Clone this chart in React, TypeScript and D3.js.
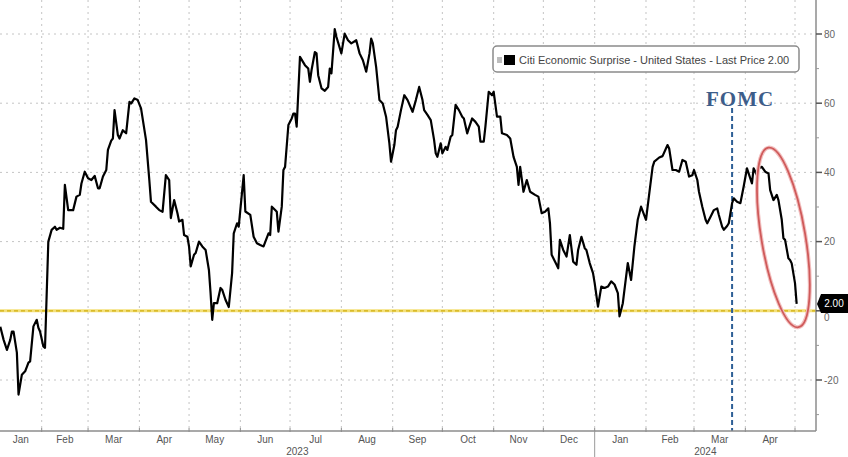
import React from 'react';
import * as d3 from 'd3';

const dates = [
  '2023-01-07','2023-01-09','2023-01-11','2023-01-13','2023-01-14','2023-01-15','2023-01-17','2023-01-18','2023-01-20','2023-01-22',
  '2023-01-24','2023-01-25','2023-01-27','2023-01-29','2023-01-30','2023-01-31','2023-02-02','2023-02-03','2023-02-05','2023-02-07',
  '2023-02-09','2023-02-10','2023-02-12','2023-02-14','2023-02-15','2023-02-17','2023-02-20','2023-02-22','2023-02-24','2023-02-25',
  '2023-02-27','2023-03-01','2023-03-03','2023-03-05','2023-03-07','2023-03-08','2023-03-10','2023-03-12','2023-03-13','2023-03-15',
  '2023-03-16','2023-03-17','2023-03-19','2023-03-20','2023-03-22','2023-03-24','2023-03-26','2023-03-27','2023-03-29','2023-03-31',
  '2023-04-02','2023-04-05','2023-04-07','2023-04-08','2023-04-11','2023-04-13','2023-04-15','2023-04-17','2023-04-19','2023-04-20',
  '2023-04-22','2023-04-24','2023-04-25','2023-04-27','2023-04-28','2023-04-30','2023-05-01','2023-05-02','2023-05-04','2023-05-05',
  '2023-05-07','2023-05-09','2023-05-11','2023-05-13','2023-05-14','2023-05-15','2023-05-16','2023-05-18','2023-05-20','2023-05-21',
  '2023-05-23','2023-05-25','2023-05-27','2023-05-28','2023-05-30','2023-05-31','2023-06-03','2023-06-04','2023-06-07','2023-06-09',
  '2023-06-11','2023-06-13','2023-06-15','2023-06-18','2023-06-19','2023-06-20','2023-06-22','2023-06-23','2023-06-24','2023-06-26',
  '2023-06-27','2023-06-28','2023-06-30','2023-07-02','2023-07-03','2023-07-04','2023-07-05','2023-07-07','2023-07-10','2023-07-12',
  '2023-07-13','2023-07-14','2023-07-16','2023-07-17','2023-07-18','2023-07-20','2023-07-22','2023-07-24','2023-07-25','2023-07-26',
  '2023-07-28','2023-07-29','2023-08-01','2023-08-03','2023-08-05','2023-08-07','2023-08-10','2023-08-12','2023-08-14','2023-08-16',
  '2023-08-18','2023-08-19','2023-08-20','2023-08-22','2023-08-24','2023-08-26','2023-08-28','2023-08-30','2023-08-31','2023-09-02',
  '2023-09-03','2023-09-04','2023-09-06','2023-09-08','2023-09-10','2023-09-13','2023-09-15','2023-09-17','2023-09-19','2023-09-20',
  '2023-09-22','2023-09-24','2023-09-26','2023-09-27','2023-09-28','2023-09-30','2023-10-01','2023-10-03','2023-10-04','2023-10-06',
  '2023-10-07','2023-10-09','2023-10-11','2023-10-13','2023-10-14','2023-10-16','2023-10-17','2023-10-19','2023-10-21','2023-10-23',
  '2023-10-24','2023-10-26','2023-10-27','2023-10-29','2023-10-31','2023-11-01','2023-11-03','2023-11-05','2023-11-06','2023-11-09',
  '2023-11-11','2023-11-13','2023-11-15','2023-11-16','2023-11-17','2023-11-19','2023-11-21','2023-11-23','2023-11-26','2023-11-28',
  '2023-11-30','2023-12-02','2023-12-04','2023-12-05','2023-12-06','2023-12-09','2023-12-10','2023-12-11','2023-12-13','2023-12-15',
  '2023-12-17','2023-12-19','2023-12-21','2023-12-22','2023-12-24','2023-12-26','2023-12-27','2023-12-29','2023-12-31','2024-01-01',
  '2024-01-03','2024-01-04','2024-01-05','2024-01-07','2024-01-09','2024-01-11','2024-01-13','2024-01-15','2024-01-16','2024-01-18',
  '2024-01-19','2024-01-21','2024-01-23','2024-01-25','2024-01-27','2024-01-29','2024-02-01','2024-02-03','2024-02-05','2024-02-06',
  '2024-02-09','2024-02-11','2024-02-14','2024-02-15','2024-02-17','2024-02-19','2024-02-21','2024-02-23','2024-02-25','2024-02-27',
  '2024-02-29','2024-03-01','2024-03-03','2024-03-04','2024-03-06','2024-03-08','2024-03-09','2024-03-11','2024-03-13','2024-03-15',
  '2024-03-16','2024-03-18','2024-03-19','2024-03-21','2024-03-22','2024-03-24','2024-03-25','2024-03-27','2024-03-29','2024-03-31',
  '2024-04-02','2024-04-03','2024-04-05','2024-04-06','2024-04-08','2024-04-09','2024-04-11','2024-04-13','2024-04-15','2024-04-16',
  '2024-04-18','2024-04-20','2024-04-21','2024-04-23','2024-04-24','2024-04-25','2024-04-27','2024-04-28','2024-04-29','2024-05-01',
  '2024-05-02'
];

const values = [
  -4.6, -8.4, -11.3, -8.4, -6.0, -6.0, -12.1, -24.2, -18.5, -17.5,
  -15.0, -14.6, -4.5, -2.6, -4.9, -6.0, -10.3, -10.7, 20.0, 23.4,
  24.3, 23.4, 24.0, 23.7, 36.4, 29.1, 29.1, 33.0, 33.5, 36.8,
  40.2, 38.3, 37.8, 39.0, 35.4, 35.4, 38.8, 40.7, 46.5, 49.2,
  49.8, 58.0, 50.8, 49.8, 52.2, 51.3, 60.4, 59.9, 61.4, 60.9,
  58.5, 49.4, 37.8, 31.5, 30.1, 29.1, 28.6, 39.2, 37.8, 26.8,
  32.0, 28.2, 25.8, 26.3, 21.9, 21.4, 18.6, 12.8, 16.2, 16.7,
  20.0, 18.6, 17.6, 11.8, 5.1, -2.6, 2.2, 2.2, 6.6, 6.1,
  3.2, 1.1, 10.9, 22.4, 25.3, 24.3, 39.2, 28.7, 27.7, 21.4,
  19.5, 19.0, 18.6, 22.4, 21.9, 30.1, 29.1, 28.6, 22.9, 30.1,
  40.7, 41.6, 53.7, 55.6, 57.0, 57.0, 53.2, 73.4, 71.0, 70.0,
  66.2, 69.6, 74.8, 74.4, 68.1, 64.3, 63.6, 64.7, 70.0, 68.6,
  81.4, 79.2, 74.4, 80.1, 78.2, 77.3, 78.2, 74.4, 72.4, 69.1,
  74.4, 78.7, 77.3, 70.5, 60.9, 59.9, 56.1, 48.4, 43.1, 47.9,
  52.2, 53.2, 58.0, 62.3, 60.9, 57.5, 60.9, 64.7, 60.9, 58.0,
  56.6, 55.1, 49.4, 45.5, 44.5, 48.4, 45.5, 47.4, 46.5, 50.3,
  50.8, 59.5, 58.0, 56.1, 55.6, 51.3, 52.8, 55.6, 54.6, 53.2,
  48.9, 48.9, 53.2, 63.3, 62.3, 63.3, 56.1, 56.1, 51.3, 50.8,
  49.8, 44.5, 41.6, 36.4, 41.6, 34.4, 37.8, 34.4, 33.5, 33.0,
  28.2, 28.6, 29.6, 25.3, 16.2, 13.3, 12.3, 20.5, 17.6, 15.7,
  21.9, 14.2, 13.3, 17.6, 21.4, 18.1, 17.6, 13.8, 10.9, 8.0,
  1.2, 4.1, 7.0, 6.6, 7.0, 8.5, 7.6, 5.1, -1.6, 2.2,
  6.1, 13.8, 8.9, 18.6, 26.3, 30.1, 26.3, 34.0, 41.6, 43.1,
  44.3, 44.7, 47.9, 46.9, 40.7, 40.7, 40.2, 43.6, 43.1, 38.8,
  39.2, 40.7, 37.8, 34.4, 30.1, 26.3, 25.3, 27.2, 29.1, 29.6,
  27.7, 24.3, 23.4, 24.5, 25.3, 31.1, 32.5, 31.5, 31.1, 35.9,
  41.2, 39.7, 36.8, 41.2, 39.2, 41.2, 41.6, 40.2, 39.7, 34.9,
  32.0, 33.5, 32.0, 26.3, 21.0, 20.5, 15.2, 14.7, 13.7, 8.0,
  2.0
];

const yTickValues = [80, 60, 40, 20, 0, -20];
const monthLabels = ['Jan', 'Feb', 'Mar', 'Apr', 'May', 'Jun', 'Jul', 'Aug', 'Sep', 'Oct', 'Nov', 'Dec'];
const yearLabels = ['2023', '2024'];
const legendLabel = 'Citi Economic Surprise - United States - Last Price 2.00';
const lastPrice = 2.0;
const fomcLabel = 'FOMC';
const fomcDate = '2024-03-24';
const circleCenter = { date: '2024-04-24', value: 21.2 };

const FONT = '"Liberation Sans", Arial, sans-serif';

export default function App() {
  const W = 848;
  const H = 457;
  const plotL = 0;
  const plotR = 816;
  const plotT = 0;
  const plotB = 431;

  const parse = d3.utcParse('%Y-%m-%d');
  const x = d3
    .scaleUtc()
    .domain([new Date(Date.UTC(2023, 1, 1)), new Date(Date.UTC(2024, 4, 1))])
    .range([41.7, 795]);
  const y = d3.scaleLinear().domain([-20, 80]).range([380, 34]);

  const data = dates.map((d, i) => ({ date: parse(d) as Date, value: values[i] }));
  const line = d3
    .line<{ date: Date; value: number }>()
    .x((d) => x(d.date))
    .y((d) => y(d.value));

  const monthStarts = d3.utcMonth.range(new Date(Date.UTC(2023, 0, 1)), new Date(Date.UTC(2024, 5, 1)));
  const gridMonths = monthStarts.filter((m) => x(m) > plotL + 2 && x(m) < plotR - 2);
  const labelMonths = d3.utcMonth.range(new Date(Date.UTC(2023, 0, 1)), new Date(Date.UTC(2024, 4, 1)));

  const minorTicks = d3.range(-30, 91, 10);
  const yearStarts = [new Date(Date.UTC(2023, 0, 1)), new Date(Date.UTC(2024, 0, 1)), new Date(Date.UTC(2024, 4, 14))];

  const fomcX = x(parse(fomcDate) as Date);
  const cx = x(parse(circleCenter.date) as Date);
  const cy = y(circleCenter.value);
  const tagY = y(lastPrice);

  return (
    <svg
      width={W}
      height={H}
      viewBox={`0 0 ${W} ${H}`}
      style={{ position: 'absolute', left: 0, top: 0, background: '#fff' }}
    >
      <defs>
        <clipPath id="plotClip">
          <rect x={plotL} y={plotT} width={plotR - plotL} height={plotB - plotT} />
        </clipPath>
      </defs>
      <rect x={0} y={0} width={W} height={H} fill="#fff" />

      {/* horizontal grid */}
      {yTickValues.map((v) => (
        <line
          key={'hg' + v}
          x1={plotL}
          x2={plotR}
          y1={y(v)}
          y2={y(v)}
          stroke="#c4c4c4"
          strokeWidth={1}
          strokeDasharray="2,4"
        />
      ))}
      {/* vertical grid */}
      {gridMonths.map((m) => (
        <line
          key={'vg' + m.toISOString()}
          x1={x(m)}
          x2={x(m)}
          y1={plotT}
          y2={plotB}
          stroke="#c4c4c4"
          strokeWidth={1}
          strokeDasharray="2,4"
        />
      ))}

      {/* zero line (yellow) */}
      <line x1={plotL} x2={plotR} y1={y(0)} y2={y(0)} stroke="#f4e07a" strokeWidth={3} />
      <line x1={plotL} x2={plotR} y1={y(0)} y2={y(0)} stroke="#cfae10" strokeWidth={1.2} strokeDasharray="4,3" />

      {/* FOMC */}
      <line
        x1={fomcX}
        x2={fomcX}
        y1={108}
        y2={plotB}
        stroke="#2d5f96"
        strokeWidth={2}
        strokeDasharray="5,3"
      />
      <text
        x={fomcX + 8}
        y={106}
        textAnchor="middle"
        fontFamily='"Liberation Serif", "Times New Roman", serif'
        fontWeight="bold"
        fontSize={21}
        letterSpacing={1}
        fill="#3d5d8a"
      >
        {fomcLabel}
      </text>

      {/* data line */}
      <g clipPath="url(#plotClip)">
        <path d={line(data) || ''} fill="none" stroke="#000" strokeWidth={2.2} strokeLinejoin="round" />
      </g>

      {/* red ellipse */}
      <g transform={`translate(${cx},${cy}) rotate(-9.5)`}>
        <ellipse cx={0} cy={0} rx={22} ry={91} fill="none" stroke="#f2c0c0" strokeWidth={4} />
        <ellipse cx={0} cy={0} rx={22} ry={91} fill="none" stroke="#cf5a5a" strokeWidth={1.8} />
      </g>

      {/* legend */}
      <rect x={493} y={46} width={306} height={26} rx={4} fill="#fff" stroke="#8a8a8a" strokeWidth={1.5} />
      <rect x={497} y={57} width={5} height={6} fill="#bdbdbd" />
      <rect x={504} y={55} width={11} height={10} fill="#000" />
      <text x={519} y={64} fontFamily={FONT} fontSize={11} fill="#444">
        {legendLabel}
      </text>

      {/* bottom axis */}
      <line x1={plotL} x2={plotR} y1={plotB} y2={plotB} stroke="#8c8c8c" strokeWidth={1.5} />
      {gridMonths.map((m) => (
        <line key={'bt' + m.toISOString()} x1={x(m)} x2={x(m)} y1={plotB - 3} y2={plotB + 1} stroke="#8c8c8c" strokeWidth={1} />
      ))}
      {labelMonths.map((m) => {
        const next = d3.utcMonth.offset(m, 1);
        const cxm = (Math.max(plotL, x(m)) + x(next)) / 2;
        return (
          <text key={'ml' + m.toISOString()} x={cxm} y={443} textAnchor="middle" fontFamily={FONT} fontSize={10} fill="#555">
            {monthLabels[m.getUTCMonth()]}
          </text>
        );
      })}
      {yearLabels.map((lab, i) => {
        const a = Math.max(plotL, x(yearStarts[i]));
        const b = Math.min(plotR, x(yearStarts[i + 1]));
        return (
          <text key={'yl' + lab} x={(a + b) / 2} y={455} textAnchor="middle" fontFamily={FONT} fontSize={10} fill="#555">
            {lab}
          </text>
        );
      })}
      <line
        x1={x(yearStarts[1])}
        x2={x(yearStarts[1])}
        y1={plotB}
        y2={H}
        stroke="#9a9a9a"
        strokeWidth={1}
      />

      {/* right axis */}
      <line x1={plotR} x2={plotR} y1={plotT} y2={plotB} stroke="#8c8c8c" strokeWidth={1.5} />
      {minorTicks.map((v) => (
        <line
          key={'rt' + v}
          x1={plotR}
          x2={plotR + (v % 20 === 0 ? 6 : 3)}
          y1={y(v)}
          y2={y(v)}
          stroke={v % 20 === 0 ? '#555' : '#999'}
          strokeWidth={v % 20 === 0 ? 1.5 : 1}
        />
      ))}
      {yTickValues.map((v) => (
        <text key={'rl' + v} x={824} y={y(v) + (v === 0 ? 7 : 0)} dy="0.35em" fontFamily={FONT} fontSize={10} fill="#666">
          {v}
        </text>
      ))}

      {/* last price tag */}
      <polygon
        points={`${plotR + 1},${tagY} ${plotR + 5},${tagY - 10} ${W},${tagY - 10} ${W},${tagY + 9} ${plotR + 5},${tagY + 9}`}
        fill="#000"
      />
      <text x={834} y={tagY} dy="0.35em" textAnchor="middle" fontFamily={FONT} fontSize={10} fill="#fff">
        {lastPrice.toFixed(2)}
      </text>
    </svg>
  );
}
